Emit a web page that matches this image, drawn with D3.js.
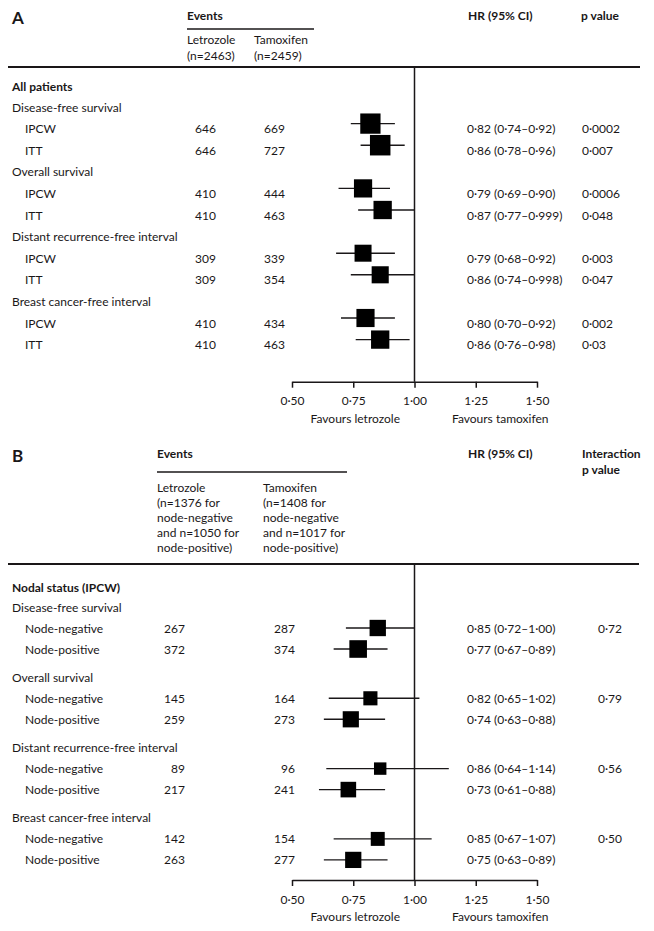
<!DOCTYPE html>
<html>
<head>
<meta charset="utf-8">
<script src="https://cdn.jsdelivr.net/npm/d3@7"></script>
<style>
  html, body { margin: 0; padding: 0; background: #fff; }
  svg { display: block; }
  text { font-family: Lato, "Open Sans", sans-serif; font-size: 12px; fill: #1a1718; }
  .b { font-weight: bold; }
</style>
</head>
<body>
<script>
// ---------- DATA ----------
const outcomes = ["Disease-free survival", "Overall survival", "Distant recurrence-free interval", "Breast cancer-free interval"];

// Panel A: all patients
const methodsA = ["IPCW", "ITT"];
const letA = [646, 646, 410, 410, 309, 309, 410, 410];
const tamA = [669, 727, 444, 463, 339, 354, 434, 463];
const hrA  = [0.82, 0.86, 0.79, 0.87, 0.79, 0.86, 0.80, 0.86];
const loA  = [0.74, 0.78, 0.69, 0.77, 0.68, 0.74, 0.70, 0.76];
const hiA  = [0.92, 0.96, 0.90, 0.999, 0.92, 0.998, 0.92, 0.98];
const pA   = ["0·0002", "0·007", "0·0006", "0·048", "0·003", "0·047", "0·002", "0·03"];

// Panel B: nodal status (IPCW)
const nodesB = ["Node-negative", "Node-positive"];
const letB = [267, 372, 145, 259, 89, 217, 142, 263];
const tamB = [287, 374, 164, 273, 96, 241, 154, 277];
const hrB  = [0.85, 0.77, 0.82, 0.74, 0.86, 0.73, 0.85, 0.75];
const loB  = [0.72, 0.67, 0.65, 0.63, 0.64, 0.61, 0.67, 0.63];
const hiB  = [1.00, 0.89, 1.02, 0.88, 1.14, 0.88, 1.07, 0.89];
const pB   = ["0·72", "0·79", "0·56", "0·50"];

const axisTicks = [0.50, 0.75, 1.00, 1.25, 1.50];

// ---------- HELPERS ----------
function fmt(v) {
  const s = (Math.round(v * 1000) % 10 !== 0) ? v.toFixed(3) : v.toFixed(2);
  return s.replace(".", "·");
}

const W = 654, H = 931;
const svg = d3.select("body").append("svg").attr("width", W).attr("height", H);

const x = d3.scaleLinear().domain([0.5, 1.5]).range([292, 537]);
const sizeScale = d3.scalePow().exponent(0.25).domain([0, 1373]).range([0, 20.5]);

function txt(g, xx, yy, s, cls, anchor) {
  return g.append("text").attr("x", xx).attr("y", yy)
    .attr("dominant-baseline", "central")
    .attr("text-anchor", anchor || "start")
    .attr("class", cls || null).text(s);
}
function hline(g, x1, x2, y, w) {
  g.append("line").attr("x1", x1).attr("x2", x2).attr("y1", y).attr("y2", y)
    .attr("stroke", "#1a1718").attr("stroke-width", w);
}

function drawAxis(g, y, top) {
  g.append("line").attr("x1", x(1)).attr("x2", x(1)).attr("y1", top).attr("y2", y)
    .attr("stroke", "#1a1718").attr("stroke-width", 1.5);
  const ax = d3.axisBottom(x).tickValues(axisTicks).tickSize(6).tickSizeOuter(0).tickPadding(9)
    .tickFormat(d => d.toFixed(2).replace(".", "·"));
  const ag = g.append("g").attr("transform", `translate(0,${y})`).call(ax);
  ag.selectAll("path, line").attr("stroke", "#1a1718").attr("stroke-width", 1.5);
  ag.selectAll("text").style("font-size", "12px").style("font-family", "Lato, 'Open Sans', sans-serif")
    .style("fill", "#1a1718");
  txt(g, 400, y + 36.5, "Favours letrozole", null, "end");
  txt(g, 452, y + 36.5, "Favours tamoxifen");
}

function drawMark(g, yy, hr, lo, hi, n) {
  g.append("line").attr("x1", x(lo)).attr("x2", x(hi)).attr("y1", yy).attr("y2", yy)
    .attr("stroke", "#1a1718").attr("stroke-width", 1.4);
  const s = sizeScale(n);
  g.append("rect").attr("x", x(hr) - s / 2).attr("y", yy - s / 2)
    .attr("width", s).attr("height", s).attr("fill", "#000");
}

// ---------- PANEL A ----------
const gA = svg.append("g");
txt(gA, 12, 17, "A", "b").style("font-size", "17px");
txt(gA, 187, 15, "Events", "b");
hline(gA, 187, 314, 29, 1.6);
txt(gA, 187, 39, "Letrozole");
txt(gA, 187, 55, "(n=2463)");
txt(gA, 254, 39, "Tamoxifen");
txt(gA, 254, 55, "(n=2459)");
txt(gA, 468, 15, "HR (95% CI)", "b");
txt(gA, 581, 15, "p value", "b");
hline(gA, 8, 640, 67, 1.8);
txt(gA, 12, 86, "All patients", "b");

const stepA = 21.6, startA = 107;
outcomes.forEach((o, gi) => {
  const hy = startA + gi * 3 * stepA;
  txt(gA, 12, hy, o);
  methodsA.forEach((m, mi) => {
    const i = gi * 2 + mi;
    const yy = hy + (mi + 1) * stepA;
    txt(gA, 25, yy, m);
    txt(gA, 216, yy, String(letA[i]), null, "end");
    txt(gA, 285, yy, String(tamA[i]), null, "end");
    txt(gA, 467, yy, `${fmt(hrA[i])} (${fmt(loA[i])}–${fmt(hiA[i])})`);
    txt(gA, 582, yy, pA[i]);
  });
});
drawAxis(gA, 381.7, 67);
outcomes.forEach((o, gi) => {
  const hy = startA + gi * 3 * stepA;
  methodsA.forEach((m, mi) => {
    const i = gi * 2 + mi;
    const yy = hy + (mi + 1) * stepA - 5;
    drawMark(gA, yy, hrA[i], loA[i], hiA[i], letA[i] + tamA[i]);
  });
});

// ---------- PANEL B ----------
const gB = svg.append("g");
txt(gB, 12, 455, "B", "b").style("font-size", "17px");
txt(gB, 157, 453, "Events", "b");
hline(gB, 157, 347, 472, 1.6);
const letHead = ["Letrozole", "(n=1376 for", "node-negative", "and n=1050 for", "node-positive)"];
const tamHead = ["Tamoxifen", "(n=1408 for", "node-negative", "and n=1017 for", "node-positive)"];
letHead.forEach((s, i) => txt(gB, 157, 487 + i * 15.2, s));
tamHead.forEach((s, i) => txt(gB, 263, 487 + i * 15.2, s));
txt(gB, 468, 453, "HR (95% CI)", "b");
txt(gB, 582, 453, "Interaction", "b");
txt(gB, 582, 469, "p value", "b");
hline(gB, 8, 639, 564, 1.8);
txt(gB, 12, 587, "Nodal status (IPCW)", "b");

const startB = 607, groupB = 70.3, stepB = 21;
drawAxis(gB, 880, 564);
outcomes.forEach((o, gi) => {
  const hy = startB + gi * groupB;
  txt(gB, 12, hy, o);
  nodesB.forEach((nd, ni) => {
    const i = gi * 2 + ni;
    const yy = hy + (ni + 1) * stepB;
    txt(gB, 25, yy, nd);
    txt(gB, 185, yy, String(letB[i]), null, "end");
    txt(gB, 295, yy, String(tamB[i]), null, "end");
    txt(gB, 467, yy, `${fmt(hrB[i])} (${fmt(loB[i])}–${fmt(hiB[i])})`);
    if (ni === 0) txt(gB, 598, yy, pB[gi]);
    drawMark(gB, yy, hrB[i], loB[i], hiB[i], letB[i] + tamB[i]);
  });
});
</script>
</body>
</html>
